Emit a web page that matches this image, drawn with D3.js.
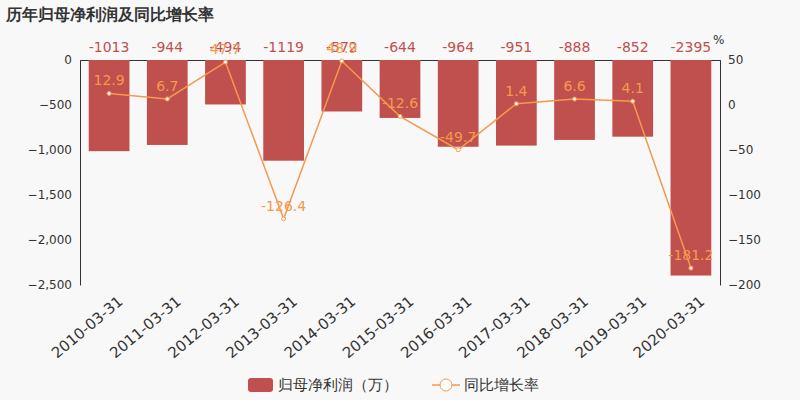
<!DOCTYPE html><html><head><meta charset="utf-8"><script src="https://cdn.jsdelivr.net/npm/d3@7"></script>
<style>body{margin:0;background:#f8f8f8}text{font-family:"DejaVu Sans",sans-serif}</style></head><body><svg width="800" height="400"></svg><script>
const categories=["2010-03-31","2011-03-31","2012-03-31","2013-03-31","2014-03-31","2015-03-31","2016-03-31","2017-03-31","2018-03-31","2019-03-31","2020-03-31"];
const profit=[-1013,-944,-494,-1119,-572,-644,-964,-951,-888,-852,-2395];
const growth=[12.9,6.7,47.7,-126.4,48.9,-12.6,-49.7,1.4,6.6,4.1,-181.2];
const leftTicks=[0,-500,-1000,-1500,-2000,-2500];
const rightTicks=[50,0,-50,-100,-150,-200];
const svg=d3.select("svg");
svg.append("rect").attr("width",800).attr("height",400).attr("fill","#f8f8f8");
const L=80,R=720,T=60,B=285;
const x=d3.scaleBand().domain(categories).range([L,R]).paddingInner(0.3).paddingOuter(0.15);
const yl=d3.scaleLinear().domain([-2500,0]).range([B,T]);
const yr=d3.scaleLinear().domain([-200,50]).range([B,T]);
svg.append("text").attr("x",6).attr("y",20).attr("font-size",16).attr("font-weight","bold").attr("fill","#333").text("历年归母净利润及同比增长率");
const ga=svg.append("g").attr("transform",`translate(${L},0)`).call(d3.axisLeft(yl).tickValues(leftTicks).tickFormat(d3.format(",")).tickSize(0).tickPadding(8));
ga.select(".domain").attr("stroke","#333");
const gr=svg.append("g").attr("transform",`translate(${R},0)`).call(d3.axisRight(yr).tickValues(rightTicks).tickSize(0).tickPadding(8));
gr.select(".domain").attr("stroke","#333");
svg.selectAll(".tick text").attr("font-size",12).attr("fill","#333");
svg.append("text").attr("x",713).attr("y",44).attr("font-size",12).attr("fill","#333").text("%");
const gx=svg.append("g").attr("transform",`translate(0,${T})`).call(d3.axisTop(x).tickSize(-5).tickFormat(""));
gx.select(".domain").attr("stroke","#333");
svg.append("g").selectAll("text").data(categories).join("text")
 .attr("transform",d=>`translate(${x(d)+x.bandwidth()/2+8},${B+10}) rotate(-40)`).attr("text-anchor","end")
 .attr("dy","0.7em").attr("font-size",15).attr("fill","#333").text(d=>d);
svg.append("g").selectAll("rect").data(profit).join("rect")
 .attr("x",(d,i)=>x(categories[i])).attr("width",x.bandwidth()).attr("y",yl(0)).attr("height",d=>yl(d)-yl(0)).attr("fill","#c0504d");
svg.append("g").selectAll("text").data(profit).join("text")
 .attr("x",(d,i)=>x(categories[i])+x.bandwidth()/2).attr("y",52).attr("text-anchor","middle").attr("font-size",14).attr("fill","#c0504d").text(d=>d);
const line=d3.line().x((d,i)=>x(categories[i])+x.bandwidth()/2).y(d=>yr(d));
svg.append("path").datum(growth).attr("d",line).attr("fill","none").attr("stroke","#f5994e").attr("stroke-width",1.5);
svg.append("g").selectAll("circle").data(growth).join("circle")
 .attr("cx",(d,i)=>x(categories[i])+x.bandwidth()/2).attr("cy",d=>yr(d)).attr("r",2).attr("fill","#fff").attr("stroke","#f5994e");
svg.append("g").selectAll("text").data(growth).join("text")
 .attr("x",(d,i)=>x(categories[i])+x.bandwidth()/2).attr("y",d=>yr(d)-8).attr("text-anchor","middle").attr("font-size",14).attr("fill","#f5994e").text(d=>d);
const lg=svg.append("g");
lg.append("rect").attr("x",248).attr("y",378).attr("width",25).attr("height",14).attr("rx",3).attr("fill","#c0504d");
lg.append("text").attr("x",278).attr("y",390).attr("font-size",15).attr("fill","#333").text("归母净利润（万）");
lg.append("line").attr("x1",432).attr("x2",460).attr("y1",385).attr("y2",385).attr("stroke","#f5994e").attr("stroke-width",1.5);
lg.append("circle").attr("cx",446).attr("cy",385).attr("r",6).attr("fill","#fff").attr("stroke","#f5994e");
lg.append("text").attr("x",464).attr("y",390).attr("font-size",15).attr("fill","#333").text("同比增长率");
</script></body></html>
